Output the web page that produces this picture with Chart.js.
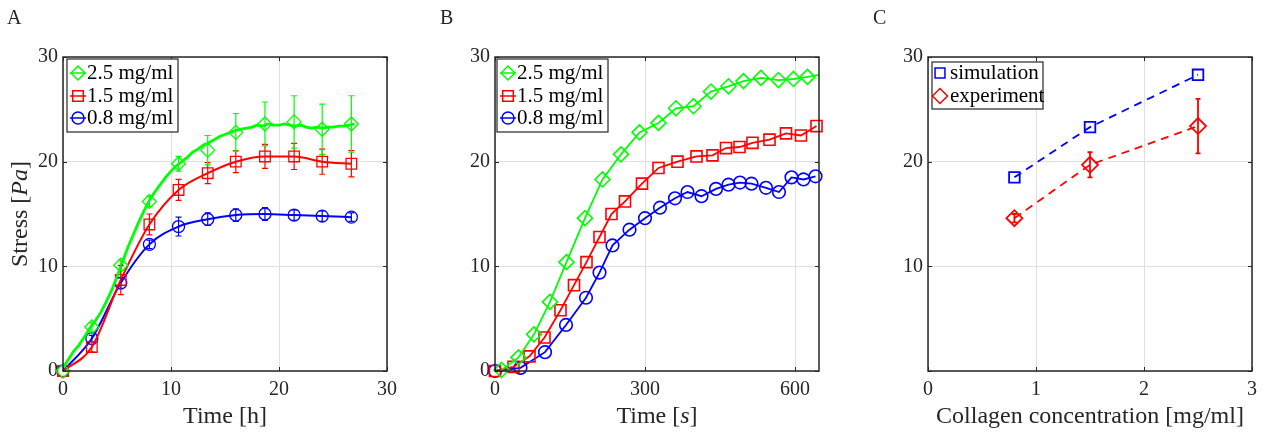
<!DOCTYPE html>
<html>
<head>
<meta charset="utf-8">
<title>Collagen stress</title>
<style>
  body { margin: 0; background: #fff; }
  #wrap { position: relative; width: 1267px; height: 432px; font-family: "Liberation Serif", serif; color: #262626; }
  canvas { position: absolute; top: 0; }
  .lbl { position: absolute; font-size: 20px; line-height: 20px; }
  .tt { position: absolute; font-size: 24px; line-height: 24px; text-align: center; white-space: nowrap; }
</style>
</head>
<body>
<div id="wrap">
  <canvas id="cA" width="420" height="432" style="left:0"></canvas>
  <canvas id="cB" width="420" height="432" style="left:430px"></canvas>
  <canvas id="cC" width="407" height="432" style="left:860px"></canvas>
  <div class="lbl" style="left:7px;top:7px">A</div>
  <div class="lbl" style="left:440px;top:7px">B</div>
  <div class="lbl" style="left:873px;top:7px">C</div>
  <div class="tt" style="left:125px;top:403px;width:200px">Time [h]</div>
  <div class="tt" style="left:557px;top:403px;width:200px">Time [<i>s</i>]</div>
  <div class="tt" style="left:890px;top:403px;width:400px">Collagen concentration [mg/ml]</div>
  <div class="tt" style="left:-81px;top:202px;width:200px;transform:rotate(-90deg)">Stress [<i>Pa</i>]</div>
</div>

<script src="https://cdn.jsdelivr.net/npm/chart.js@4.4.0/dist/chart.umd.min.js"></script>
<script>
// ---- panel A: stress vs time [h]
var aT = [0, 2.67, 5.35, 8.0, 10.7, 13.4, 16.0, 18.7, 21.4, 24.0, 26.7];
var aGreen = [0, 4.2, 10.1, 16.2, 19.8, 21.1, 22.8, 23.6, 23.8, 23.1, 23.6];
var aGreenErr = [0, 0.4, 0.5, 0.5, 0.7, 1.4, 1.8, 2.1, 2.5, 2.4, 2.7];
var aRed = [0, 2.3, 8.7, 14.0, 17.3, 18.9, 20.0, 20.5, 20.5, 20.0, 19.8];
var aRedErr = [0, 0.5, 1.4, 1.0, 1.0, 1.0, 1.05, 1.15, 1.25, 1.2, 1.25];
var aBlue = [0, 3.1, 8.4, 12.1, 13.8, 14.5, 14.9, 15.0, 14.9, 14.8, 14.7];
var aBlueErr = [0, 0.3, 0.5, 0.4, 0.9, 0.6, 0.6, 0.6, 0.5, 0.5, 0.4];
// raw 2.5 mg/ml trace
var aRawT = [0, 0.5, 1, 1.5, 2, 2.5, 3, 3.5, 4, 4.5, 5, 5.5, 6, 6.5, 7, 7.5, 8, 8.5, 9, 9.5,
  10, 10.5, 11, 11.5, 12, 12.5, 13, 13.5, 14, 14.5, 15, 15.5, 16, 16.5, 17, 17.5, 18, 18.5,
  19, 19.5, 20, 20.5, 21, 21.5, 22, 22.5, 23, 23.5, 24, 24.5, 25, 25.5, 26, 26.5, 27];
var aRaw = [0.3, 1.1, 1.9, 2.5, 3.3, 4.1, 4.8, 5.6, 6.6, 7.7, 9.0, 10.4, 11.8, 13.0, 14.2, 15.3, 16.3, 17.1, 17.8, 18.5,
  19.1, 19.6, 20.0, 20.4, 20.9, 21.2, 21.6, 21.8, 22.1, 22.4, 22.6, 22.8, 23.0, 23.1, 23.2, 23.3, 23.5, 23.4,
  23.6, 23.5, 23.5, 23.6, 23.5, 23.4, 23.5, 23.3, 23.2, 23.3, 23.2, 23.3, 23.3, 23.4, 23.4, 23.5, 23.6];

// ---- panel B: stress vs time [s]
var bGreenT = [13, 47, 78, 110, 143, 180, 215, 252, 289, 327, 362, 397, 432, 467, 497, 532, 567, 597, 625, 648];
var bGreen = [0.1, 1.3, 3.5, 6.6, 10.4, 14.6, 18.3, 20.7, 22.8, 23.7, 25.1, 25.3, 26.7, 27.2, 27.7, 28.0, 27.8, 27.9, 28.1, 28.3];
var bRedT = [0, 37, 69, 99, 131, 158, 183, 209, 233, 260, 294, 327, 365, 403, 435, 462, 489, 515, 549, 582, 612, 643];
var bRed = [0, 0.4, 1.4, 3.2, 5.8, 8.2, 10.4, 12.8, 15.0, 16.2, 17.9, 19.4, 20.0, 20.5, 20.6, 21.3, 21.4, 21.8, 22.1, 22.7, 22.5, 23.4];
var bBlueT = [0, 51, 100, 142, 182, 209, 235, 269, 300, 330, 360, 385, 413, 442, 467, 490, 513, 542, 568, 593, 617, 641];
var bBlue = [0, 0.3, 1.8, 4.4, 7.0, 9.4, 12.0, 13.5, 14.6, 15.6, 16.5, 17.1, 16.7, 17.4, 17.8, 18.0, 17.9, 17.5, 17.1, 18.5, 18.3, 18.6];

// ---- panel C: final stress vs concentration
var cConc = [0.8, 1.5, 2.5];
var cSim = [18.5, 23.3, 28.3];
var cExp = [14.6, 19.7, 23.4];
var cExpErr = [0.4, 1.2, 2.6];

var concLabels = ['2.5 mg/ml', '1.5 mg/ml', '0.8 mg/ml'];
var aXTicks = [0, 10, 20, 30];
var bXTicks = [0, 300, 600];
var cXTicks = [0, 1, 2, 3];
var yTicks = [0, 10, 20, 30];

var G = '#00ff00', R = '#ff0000', B = '#0000ff', INK = '#262626';
Chart.defaults.font.family = '"Liberation Serif", serif';
Chart.defaults.color = INK;

function pts(xs, ys) {
  return xs.map(function (x, i) { return { x: x, y: ys[i] }; });
}

function marker(ctx, style, x, y, r) {
  ctx.beginPath();
  if (style === 'circle') {
    ctx.arc(x, y, r, 0, Math.PI * 2);
  } else if (style === 'rect') {
    var s = r * Math.SQRT1_2;
    ctx.rect(x - s, y - s, 2 * s, 2 * s);
  } else {
    ctx.moveTo(x - r, y); ctx.lineTo(x, y - r); ctx.lineTo(x + r, y); ctx.lineTo(x, y + r); ctx.closePath();
  }
  ctx.stroke();
}

var legends = {
  cA: { x: 67, y: 59, w: 111, h: 73, mx: 11, tx: 20, line: true, rows: [
    { label: concLabels[0], color: G, style: 'rectRot', r: 7, y: 73 },
    { label: concLabels[1], color: R, style: 'rect', r: 7.5, y: 96 },
    { label: concLabels[2], color: B, style: 'circle', r: 6, y: 118 }] },
  cB: { x: 67, y: 59, w: 111, h: 73, mx: 11, tx: 20, line: true, rows: [
    { label: concLabels[0], color: G, style: 'rectRot', r: 7, y: 73 },
    { label: concLabels[1], color: R, style: 'rect', r: 7.5, y: 96 },
    { label: concLabels[2], color: B, style: 'circle', r: 6, y: 118 }] },
  cC: { x: 72, y: 62, w: 111, h: 47, mx: 8, tx: 18, line: false, rows: [
    { label: 'simulation', color: B, style: 'rect', r: 7, y: 73 },
    { label: 'experiment', color: R, style: 'rectRot', r: 7.5, y: 96 }] }
};

var frame = {
  id: 'frame',
  afterDatasetsDraw: function (chart) {
    var ctx = chart.ctx, ys = chart.scales.y;
    for (var i = chart.data.datasets.length - 1; i >= 0; i--) {
      var ds = chart.data.datasets[i];
      if (!ds.errors) continue;
      var meta = chart.getDatasetMeta(i);
      ctx.save();
      ctx.strokeStyle = ds.borderColor;
      ctx.lineWidth = ds.errWidth || 1.2;
      meta.data.forEach(function (el, j) {
        var e = ds.errors[j], v = ds.data[j].y;
        if (!e) return;
        var y0 = ys.getPixelForValue(v - e), y1 = ys.getPixelForValue(v + e), c = ds.errCap || 3;
        ctx.beginPath();
        ctx.moveTo(el.x, y0); ctx.lineTo(el.x, y1);
        ctx.moveTo(el.x - c, y0); ctx.lineTo(el.x + c, y0);
        ctx.moveTo(el.x - c, y1); ctx.lineTo(el.x + c, y1);
        ctx.stroke();
      });
      ctx.restore();
    }
  },
  afterDraw: function (chart) {
    var ctx = chart.ctx, a = chart.chartArea, xs = chart.scales.x, ys = chart.scales.y;
    ctx.save();
    ctx.strokeStyle = INK;
    ctx.lineWidth = 1;
    ctx.beginPath();
    xs.ticks.forEach(function (t) {
      var p = Math.round(xs.getPixelForValue(t.value)) + 0.5;
      ctx.moveTo(p, a.bottom); ctx.lineTo(p, a.bottom - 4);
      ctx.moveTo(p, a.top); ctx.lineTo(p, a.top + 4);
    });
    ys.ticks.forEach(function (t) {
      var p = Math.round(ys.getPixelForValue(t.value)) + 0.5;
      ctx.moveTo(a.left, p); ctx.lineTo(a.left + 4, p);
      ctx.moveTo(a.right, p); ctx.lineTo(a.right - 4, p);
    });
    ctx.stroke();
    ctx.lineWidth = 1.5;
    ctx.strokeRect(a.left, a.top, a.right - a.left, a.bottom - a.top);

    var L = legends[chart.canvas.id];
    ctx.fillStyle = '#fff';
    ctx.fillRect(L.x, L.y, L.w, L.h);
    ctx.lineWidth = 1.2;
    ctx.strokeRect(L.x, L.y, L.w, L.h);
    ctx.font = '21px "Liberation Serif", serif';
    ctx.textBaseline = 'middle';
    L.rows.forEach(function (r) {
      ctx.strokeStyle = r.color;
      ctx.lineWidth = 1.5;
      if (L.line) {
        ctx.beginPath();
        ctx.moveTo(L.x + 3, r.y); ctx.lineTo(L.x + L.mx * 2 - 3, r.y);
        ctx.stroke();
      }
      marker(ctx, r.style, L.x + L.mx, r.y, r.r);
      ctx.fillStyle = '#000';
      ctx.fillText(r.label, L.x + L.tx, r.y);
    });
    ctx.restore();
  }
};

function scales(xMin, xMax, xTicks, yWidth, hideZero) {
  return {
    x: {
      type: 'linear', min: xMin, max: xMax,
      afterBuildTicks: function (s) { s.ticks = xTicks.map(function (v) { return { value: v }; }); },
      afterFit: function (s) { s.height = 61; },
      grid: { color: '#dfdfdf', drawTicks: false },
      border: { display: false },
      ticks: { padding: 7, font: { size: 20 }, color: INK, maxRotation: 0, callback: function (v) { return String(v); } }
    },
    y: {
      type: 'linear', min: 0, max: 30,
      afterBuildTicks: function (s) { s.ticks = yTicks.map(function (v) { return { value: v }; }); },
      afterFit: function (s) { s.width = yWidth; },
      grid: { color: '#dfdfdf', drawTicks: false },
      border: { display: false },
      ticks: { padding: 5, font: { size: 20 }, color: INK, callback: function (v) { return (hideZero && v === 0) ? '' : String(v); } }
    }
  };
}

function opts(pad, sc) {
  return {
    responsive: false, animation: false, events: [],
    layout: { padding: pad },
    plugins: { legend: { display: false }, tooltip: { enabled: false } },
    scales: sc
  };
}

var hollow = 'rgba(0,0,0,0)';

new Chart(document.getElementById('cA'), {
  type: 'line',
  data: { datasets: [
    { data: pts(aRawT, aRaw), borderColor: G, borderWidth: 2.8, pointRadius: 0 },
    { data: pts(aT, aGreen), errors: aGreenErr, showLine: false, borderColor: G, pointStyle: 'rectRot',
      pointRadius: 7, pointBorderWidth: 1.3, pointBackgroundColor: hollow, clip: false },
    { data: pts(aT, aRed), errors: aRedErr, borderColor: R, borderWidth: 2, cubicInterpolationMode: 'monotone',
      pointStyle: 'rect', pointRadius: 7.5, pointBorderWidth: 1.3, pointBackgroundColor: hollow, clip: false },
    { data: pts(aT, aBlue), errors: aBlueErr, borderColor: B, borderWidth: 2, cubicInterpolationMode: 'monotone',
      pointStyle: 'circle', pointRadius: 6, pointBorderWidth: 1.3, pointBackgroundColor: hollow, clip: false }
  ] },
  options: opts({ left: 0, top: 57, right: 33, bottom: 0 }, scales(0, 30, aXTicks, 63, false)),
  plugins: [frame]
});

new Chart(document.getElementById('cB'), {
  type: 'line',
  data: { datasets: [
    { data: pts(bGreenT, bGreen), borderColor: G, borderWidth: 1.8, pointStyle: 'rectRot',
      pointRadius: bGreenT.map(function (t, i) { return i === bGreenT.length - 1 ? 0 : 7.5; }),
      pointBorderWidth: 1.6, pointBackgroundColor: hollow, clip: false },
    { data: pts(bRedT, bRed), borderColor: R, borderWidth: 1.8, pointStyle: 'rect', pointRadius: 7.8,
      pointBorderWidth: 1.6, pointBackgroundColor: hollow, clip: false },
    { data: pts(bBlueT, bBlue), borderColor: B, borderWidth: 1.8, pointStyle: 'circle', pointRadius: 6.3,
      pointBorderWidth: 1.6, pointBackgroundColor: hollow, clip: false }
  ] },
  options: opts({ left: 0, top: 57, right: 31, bottom: 0 }, scales(0, 648, bXTicks, 65, false)),
  plugins: [frame]
});

new Chart(document.getElementById('cC'), {
  type: 'line',
  data: { datasets: [
    { data: pts(cConc, cSim), borderColor: B, borderWidth: 1.8, borderDash: [8, 6], pointStyle: 'rect',
      pointRadius: 7.5, pointBorderWidth: 1.8, pointBackgroundColor: hollow, clip: false },
    { data: pts(cConc, cExp), errors: cExpErr, errWidth: 1.8, errCap: 2.5, borderColor: R, borderWidth: 1.8,
      borderDash: [8, 6], pointStyle: 'rectRot', pointRadius: 8, pointBorderWidth: 1.8,
      pointBackgroundColor: hollow, clip: false }
  ] },
  options: opts({ left: 0, top: 57, right: 15, bottom: 0 }, scales(0, 3, cXTicks, 68, true)),
  plugins: [frame]
});
</script>
</body>
</html>
